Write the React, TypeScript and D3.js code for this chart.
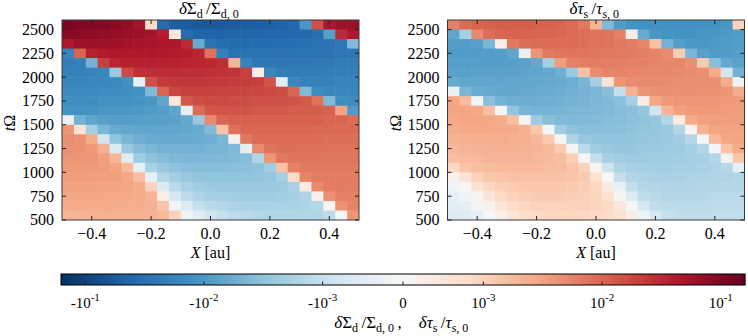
import * as d3 from "d3";

// cell centres of the gridded maps
const X_CENTERS = [-0.48, -0.44, -0.4, -0.36, -0.32, -0.28, -0.24, -0.2, -0.16, -0.12, -0.08, -0.04, 0, 0.04, 0.08, 0.12, 0.16, 0.2, 0.24, 0.28, 0.32, 0.36, 0.4, 0.44, 0.48];
const T_CENTERS = [2550, 2450, 2350, 2250, 2150, 2050, 1950, 1850, 1750, 1650, 1550, 1450, 1350, 1250, 1150, 1050, 950, 850, 750, 650, 550];
const X_TICKS = [-0.4, -0.2, 0, 0.2, 0.4];
const T_TICKS = [500, 750, 1000, 1250, 1500, 1750, 2000, 2250, 2500];
const CBAR_TICKS = [-0.1, -0.01, -0.001, 0, 0.001, 0.01, 0.1];

// values in units of 1e-3, rows from top (2550) to bottom (550)
const UNIT = 1e-3;
const SIGMA_D = [
  [110, 105, 100, 95, 85, 75, 55, 0.8, -35, -50, -55, -58, -58, -56, -54, -52, -50, -48, -45, -40, -10, 15, 50, 60, 65],
  [90, 85, 80, 75, 70, 65, 60, 55, 40, 0.5, -35, -42, -44, -44, -43, -42, -41, -40, -39, -38, -37, -33, -8, 30, 45],
  [45, 60, 62, 60, 58, 55, 52, 50, 48, 45, 30, -6, -30, -35, -36, -36, -35, -35, -34, -33, -32, -31, -30, -26, -4],
  [-17, 10, 35, 42, 44, 45, 45, 44, 42, 40, 38, 33, 8, -20, -30, -30, -30, -30, -29, -29, -28, -28, -27, -27, -26],
  [-21, -20, -5, 20, 33, 36, 37, 37, 36, 35, 34, 33, 32, 28, 2, -18, -26, -26, -26, -25, -25, -24, -24, -23, -23],
  [-19, -19, -18, -16, -2.5, 17, 27, 29, 29, 29, 28, 28, 27, 26, 25, 20, 0.3, -16, -22, -22, -22, -21, -21, -21, -20],
  [-17, -17, -16, -16, -15, -12, -0.4, 15, 22, 24, 24, 24, 23, 23, 22, 21, 20, 14, -0.5, -16, -19, -19, -19, -18, -18],
  [-15, -15, -15, -14, -14, -13, -12, -4, 10, 18, 20, 20, 20, 19, 19, 18, 18, 17, 16, 10, -4, -14, -16, -16, -16],
  [-13, -13, -13, -12, -12, -12, -11, -10, -7, 0.5, 13, 16, 17, 17, 16, 16, 15, 15, 15, 14, 13, 8, -4, -13, -14],
  [-11, -11, -11, -10, -10, -10, -9.5, -9, -8.5, -7, -0.4, 9, 13, 14, 14, 14, 13, 13, 13, 12, 12, 12, 11, 3, -9],
  [-0.3, -5, -7, -8, -8.5, -8.5, -8.5, -8, -8, -7.5, -6.5, -2.5, 5, 10, 11, 11, 11, 11, 11, 11, 11, 11, 10, 10, 9],
  [4, 0.6, -2, -4.5, -6, -6.5, -7, -7, -7, -6.8, -6.5, -6, -4, 1.5, 8, 10, 10, 10, 10, 10, 10, 9.5, 9.5, 9.5, 9.5],
  [4.8, 4.3, 2.5, -0.8, -3, -4.5, -5.5, -6, -6, -6, -6, -5.8, -5.5, -4.5, 0.2, 7, 9, 9, 9, 9, 9, 9, 8.5, 8.5, 8.5],
  [4.4, 4.3, 3.8, 2.2, -0.6, -2.5, -3.8, -4.5, -5, -5, -5, -5, -4.8, -4.6, -4, -0.4, 5, 8, 8.3, 8.3, 8.2, 8.2, 8, 8, 8],
  [4, 4, 3.9, 3.4, 2, -0.5, -2.2, -3.2, -3.8, -4.2, -4.3, -4.3, -4.2, -4.1, -4, -3.6, -1.5, 4, 7, 7.5, 7.5, 7.5, 7.4, 7.4, 7.4],
  [3.7, 3.7, 3.6, 3.5, 3, 1.8, -0.4, -1.8, -2.6, -3.2, -3.5, -3.6, -3.6, -3.6, -3.5, -3.4, -3.2, -2.2, 1.5, 6, 7, 7, 7, 7, 7],
  [3.4, 3.4, 3.4, 3.3, 3.2, 2.8, 1.6, -0.35, -1.5, -2.1, -2.6, -2.9, -3, -3, -3, -3, -2.9, -2.8, -2, 0.8, 5.5, 6.5, 6.7, 6.7, 6.7],
  [3.1, 3.1, 3.1, 3, 3, 2.9, 2.5, 1, -0.6, -1.3, -1.8, -2.2, -2.4, -2.6, -2.6, -2.6, -2.6, -2.5, -2.4, -1.8, 0.4, 5, 6.3, 6.3, 6.3],
  [2.8, 2.8, 2.8, 2.8, 2.7, 2.7, 2.5, 2, 0.3, -0.7, -1.2, -1.6, -1.9, -2, -2.1, -2.2, -2.2, -2.2, -2.1, -2, -1.6, 0.2, 4.5, 6, 6],
  [2.5, 2.5, 2.5, 2.5, 2.5, 2.4, 2.4, 2.2, 1.4, -0.15, -0.6, -1, -1.3, -1.5, -1.7, -1.8, -1.8, -1.8, -1.8, -1.8, -1.7, -1.4, 0.1, 4.5, 5.8],
  [2, 2.1, 2.2, 2.2, 2.2, 2.2, 2.2, 2.1, 1.8, 1, -0.15, -0.5, -0.8, -1, -1.2, -1.3, -1.4, -1.5, -1.5, -1.5, -1.5, -1.5, -1.2, -0.1, 4],
];
const TAU_S = [
  [6, 9, 10.5, 11, 11.5, 11.5, 11.5, 11, 10.5, 10, 9, 7, 2, -4, -9, -11, -12, -12, -12, -12, -12, -11.5, -11, -10, 1],
  [-7, -2, 5, 8.5, 10, 10.5, 10.5, 10, 10, 9.5, 9, 8.5, 8, 7.5, 6, 0.3, -6, -10, -11, -11, -11, -10.5, -10, -9.5, -9],
  [-8.5, -8.5, -8, -4.5, 0.3, 7, 8.5, 9, 9, 8.8, 8.6, 8.3, 8, 7.5, 7, 6.5, 5.5, 1.5, -5, -8.5, -10, -10, -9.5, -9, -8.5],
  [-9, -9, -9, -8.8, -8.5, -7, -0.3, 4, 7, 7.5, 7.5, 7.5, 7.3, 7, 6.8, 6.5, 6.2, 5.8, 5, 1.2, -4.5, -8, -9, -9, -8.5],
  [-8.5, -8.5, -8.5, -8.5, -8.3, -8, -7.5, -6.5, -2, 3.5, 6, 6.5, 6.5, 6.3, 6.2, 6, 5.8, 5.6, 5.4, 5.2, 4.5, 1.2, -3.5, -6.5, -7.5],
  [-7.5, -7.8, -7.8, -7.8, -7.7, -7.5, -7.2, -7, -6.5, -5.5, -2.5, 1.5, 4.8, 5.5, 5.6, 5.5, 5.4, 5.3, 5.2, 5, 4.8, 4.5, 2.5, -0.8, -5],
  [-6, -6.8, -7, -7, -7, -6.8, -6.7, -6.5, -6.3, -6, -5.5, -4.5, -2, 0.6, 4, 4.8, 5, 5, 4.9, 4.8, 4.7, 4.6, 4.4, 2.5, -0.2],
  [-0.3, -4.5, -5.8, -6.2, -6.3, -6.3, -6.2, -6, -5.8, -5.5, -5.2, -4.8, -4.3, -3.5, -1, 2.2, 4, 4.5, 4.5, 4.5, 4.4, 4.3, 4.2, 4, 2.5],
  [3, 1.8, -0.15, -3.5, -5, -5.5, -5.6, -5.5, -5.3, -5.1, -4.9, -4.6, -4.3, -4, -3.4, -2, 0.3, 3, 3.8, 4, 4, 4, 3.9, 3.8, 3.7],
  [3, 3, 2.7, 1.6, -0.05, -3, -4.4, -4.8, -4.8, -4.7, -4.5, -4.3, -4.1, -3.9, -3.7, -3.4, -2.8, -0.8, 2, 3.3, 3.7, 3.7, 3.7, 3.6, 3.5],
  [2.7, 2.9, 2.9, 2.8, 2.5, 1.6, 0.05, -2.3, -3.6, -4, -4.1, -4, -3.9, -3.7, -3.5, -3.3, -3.1, -2.7, -1.5, 0.4, 2.5, 3.2, 3.4, 3.4, 3.4],
  [2.4, 2.6, 2.7, 2.7, 2.6, 2.5, 2.2, 1.3, -0.1, -2.2, -3.2, -3.5, -3.5, -3.4, -3.3, -3.1, -3, -2.8, -2.5, -1.5, 0.1, 2.2, 3, 3.1, 3.1],
  [2.1, 2.3, 2.4, 2.4, 2.4, 2.3, 2.2, 1.9, 1.2, 0.05, -1.7, -2.7, -3, -3.1, -3, -2.9, -2.8, -2.7, -2.5, -2.2, -1.4, -0.05, 1.8, 2.8, 3],
  [1.9, 2, 2.1, 2.2, 2.2, 2.2, 2.1, 2, 1.8, 1.2, 0.05, -1.3, -2.2, -2.6, -2.7, -2.7, -2.6, -2.5, -2.4, -2.3, -2, -1.5, -0.1, 1.5, 2.5],
  [1.6, 1.8, 1.9, 2, 2, 2, 2, 1.9, 1.8, 1.6, 1.1, 0.1, -1, -1.9, -2.2, -2.3, -2.3, -2.2, -2.2, -2.1, -2, -1.9, -1.5, -0.2, 1.3],
  [0.9, 1.4, 1.6, 1.7, 1.8, 1.8, 1.8, 1.8, 1.7, 1.6, 1.4, 1, 0.05, -0.9, -1.6, -1.9, -2, -2, -2, -1.9, -1.9, -1.8, -1.7, -1.4, -0.4],
  [0.15, 0.6, 1, 1.3, 1.4, 1.5, 1.5, 1.5, 1.5, 1.5, 1.4, 1.2, 0.7, -0.05, -1, -1.5, -1.7, -1.8, -1.8, -1.8, -1.7, -1.7, -1.6, -1.6, -1.5],
  [-0.15, 0.1, 0.6, 0.9, 1.1, 1.2, 1.3, 1.3, 1.3, 1.3, 1.2, 1.1, 0.9, 0.35, -0.3, -1, -1.4, -1.5, -1.6, -1.6, -1.6, -1.5, -1.5, -1.4, -1.4],
  [-0.4, -0.15, 0.1, 0.55, 0.85, 1, 1.1, 1.15, 1.15, 1.15, 1.1, 1.05, 0.95, 0.65, 0.05, -0.6, -1.1, -1.3, -1.4, -1.4, -1.4, -1.4, -1.3, -1.3, -1.3],
  [-0.5, -0.4, -0.1, 0.2, 0.55, 0.8, 0.9, 1, 1, 1, 1, 1, 0.95, 0.85, 0.45, -0.05, -0.75, -1.1, -1.2, -1.25, -1.25, -1.25, -1.2, -1.2, -1.2],
  [-0.55, -0.55, -0.4, -0.1, 0.25, 0.55, 0.75, 0.85, 0.9, 0.9, 0.9, 0.9, 0.85, 0.8, 0.65, 0.25, -0.2, -0.7, -1, -1.1, -1.1, -1.1, -1.1, -1.1, -1.1],
];

const LINTHRESH = 1e-3;
const LINSCALE = 0.677;
const VMAX = 0.16;
const RDBU_R = ["#053061", "#2166ac", "#4393c3", "#92c5de", "#d1e5f0", "#f7f7f7", "#fddbc7", "#f4a582", "#d6604d", "#b2182b", "#67001f"];

const FONT = "'Liberation Serif', 'Times New Roman', serif";
const PLOT_TOP = 20;
const PLOT_H = 200;
const PLOT_W = 297;
const CELL_DX = 0.02;
const CELL_DT = 50;

function symlog(v: number) {
  const a = Math.abs(v);
  if (a <= LINTHRESH) return (v / LINTHRESH) * LINSCALE;
  return Math.sign(v) * (LINSCALE + Math.log10(a / LINTHRESH));
}

const norm = d3.scaleLinear().domain([symlog(-VMAX), symlog(VMAX)]).range([0, 1]).clamp(true);
const cmap = d3
  .scaleLinear<string>()
  .domain(RDBU_R.map((_, i) => i / (RDBU_R.length - 1)))
  .range(RDBU_R)
  .interpolate(d3.interpolateRgb);
const colorOf = (v: number) => cmap(norm(symlog(v)));

function Sub({ children, size = 12 }: { children: any; size?: number }) {
  return (
    <>
      <tspan dy={4} fontSize={size}>{children}</tspan>
      <tspan dy={-4}>{"\u2009"}</tspan>
    </>
  );
}

function Panel({ x0, data, title, id }: { x0: number; data: number[][]; title: any; id: string }) {
  const x = d3.scaleLinear().domain([-0.5, 0.5]).range([x0, x0 + PLOT_W]);
  const y = d3.scaleLinear().domain([500, 2600]).range([PLOT_TOP + PLOT_H, PLOT_TOP]);
  const fmtX = (v: number) => (v < 0 ? "\u2212" : "") + Math.abs(v).toFixed(1);
  return (
    <g>
      <clipPath id={id}>
        <rect x={x0} y={PLOT_TOP} width={PLOT_W} height={PLOT_H} />
      </clipPath>
      <g clipPath={`url(#${id})`}>
        {data.map((row, j) =>
          row.map((v, i) => {
            const xc = X_CENTERS[i];
            const tc = T_CENTERS[j];
            return (
              <rect
                key={`${j}-${i}`}
                x={x(xc - CELL_DX)}
                y={y(tc + CELL_DT)}
                width={x(xc + CELL_DX) - x(xc - CELL_DX) + 0.6}
                height={y(tc - CELL_DT) - y(tc + CELL_DT) + 0.6}
                fill={colorOf(v * UNIT)}
              />
            );
          })
        )}
      </g>
      <rect x={x0} y={PLOT_TOP} width={PLOT_W} height={PLOT_H} fill="none" stroke="#3a3a3a" strokeWidth={1} />
      {X_TICKS.map((t) => (
        <g key={`xt${t}`} stroke="#222" strokeWidth={1}>
          <line x1={x(t)} x2={x(t)} y1={PLOT_TOP + PLOT_H} y2={PLOT_TOP + PLOT_H - 4} />
          <line x1={x(t)} x2={x(t)} y1={PLOT_TOP} y2={PLOT_TOP + 4} />
        </g>
      ))}
      {T_TICKS.map((t) => (
        <g key={`yt${t}`} stroke="#222" strokeWidth={1}>
          <line x1={x0} x2={x0 + 4} y1={y(t)} y2={y(t)} />
          <line x1={x0 + PLOT_W} x2={x0 + PLOT_W - 4} y1={y(t)} y2={y(t)} />
        </g>
      ))}
      <g fontFamily={FONT} fontSize={16} fill="#000">
        {X_TICKS.map((t) => (
          <text key={`xl${t}`} x={x(t)} y={239} textAnchor="middle">{fmtX(t)}</text>
        ))}
        {T_TICKS.map((t) => (
          <text key={`yl${t}`} x={x0 - 8} y={y(t)} dy="0.34em" textAnchor="end">{t}</text>
        ))}
        <text x={x0 + PLOT_W / 2} y={258} textAnchor="middle">
          <tspan fontStyle="italic">X</tspan> [au]
        </text>
        <text transform={`translate(${x0 - 47},${PLOT_TOP + PLOT_H / 2 + 3}) rotate(-90)`} textAnchor="middle">
          <tspan fontStyle="italic">t</tspan>Ω
        </text>
        <text x={x0 + PLOT_W / 2} y={14} textAnchor="middle" fontSize={17}>{title}</text>
      </g>
    </g>
  );
}

const CBAR_X0 = 61;
const CBAR_X1 = 745;
const CBAR_Y = 274;
const CBAR_H = 11;

function Colorbar() {
  const cx = d3.scaleLinear().domain([symlog(-VMAX), symlog(VMAX)]).range([CBAR_X0, CBAR_X1]);
  const strips = d3.range(CBAR_X0, CBAR_X1, 1);
  return (
    <g>
      {strips.map((px) => (
        <rect key={px} x={px} y={CBAR_Y} width={1.3} height={CBAR_H} fill={cmap(norm(cx.invert(px + 0.5)))} />
      ))}
      <rect x={CBAR_X0} y={CBAR_Y} width={CBAR_X1 - CBAR_X0} height={CBAR_H} fill="none" stroke="#000" strokeWidth={1} />
      {CBAR_TICKS.map((t) => (
        <line key={`ct${t}`} x1={cx(symlog(t))} x2={cx(symlog(t))} y1={CBAR_Y + CBAR_H} y2={CBAR_Y + CBAR_H - 3.5} stroke="#222" />
      ))}
      <g fontFamily={FONT} fontSize={15} fill="#000">
        {CBAR_TICKS.map((t) => {
          const px = cx(symlog(t));
          if (t === 0) return <text key={`cl${t}`} x={px} y={308} textAnchor="middle">0</text>;
          const exp = Math.round(Math.log10(Math.abs(t)));
          return (
            <text key={`cl${t}`} x={px} y={308} textAnchor="middle">
              {t < 0 ? "-" : ""}10<tspan dy={-7.5} fontSize={11}>{exp}</tspan>
            </text>
          );
        })}
        <text x={(CBAR_X0 + CBAR_X1) / 2} y={328} textAnchor="middle" fontSize={17}>
          <tspan fontStyle="italic">δ</tspan>Σ<Sub>d</Sub>/Σ<Sub>d, 0</Sub>,{"\u2003"}
          <tspan fontStyle="italic">δτ</tspan><Sub>s</Sub>/<tspan fontStyle="italic">τ</tspan><Sub>s, 0</Sub>
        </text>
      </g>
    </g>
  );
}

export default function App() {
  return (
    <svg width={748} height={336} style={{ position: "absolute", left: 0, top: 0, background: "#fff" }}>
      <Panel
        id="clipA"
        x0={62}
        data={SIGMA_D}
        title={<><tspan fontStyle="italic">δ</tspan>Σ<Sub>d</Sub>/Σ<Sub>d, 0</Sub></>}
      />
      <Panel
        id="clipB"
        x0={447.5}
        data={TAU_S}
        title={<><tspan fontStyle="italic">δτ</tspan><Sub>s</Sub>/<tspan fontStyle="italic">τ</tspan><Sub>s, 0</Sub></>}
      />
      <Colorbar />
    </svg>
  );
}
